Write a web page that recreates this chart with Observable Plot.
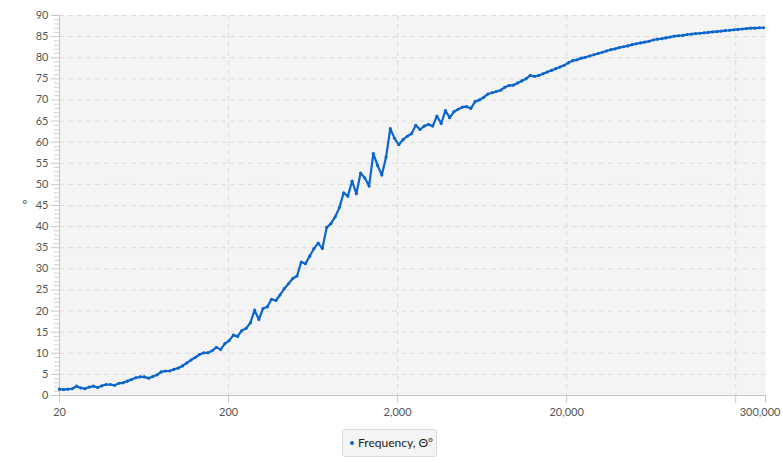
<!DOCTYPE html>
<html>
<head>
<meta charset="utf-8">
<script src="https://cdn.jsdelivr.net/npm/d3@7"></script>
<script src="https://cdn.jsdelivr.net/npm/@observablehq/plot@0.6"></script>
<style>
  html, body { margin: 0; padding: 0; background: #fff; }
  #wrap { position: relative; width: 783px; height: 463px; font-family: Lato, "Open Sans", sans-serif; }
  #legend {
    position: absolute; left: 342px; top: 429px; width: 93px; height: 26px;
    border: 1px solid #dcdcdc; border-radius: 3px; background: #f4f4f4;
    font-size: 12px; color: #222; line-height: 26px; box-sizing: content-box;
    white-space: nowrap;
  }
  #legend .dot { display: inline-block; width: 4px; height: 4px; border-radius: 50%; background: #0a66cc; margin: 0 4px 2px 7px; vertical-align: middle; }
</style>
</head>
<body>
<div id="wrap"><div id="chart"></div><div id="legend"><span class="dot"></span>Frequency, Θ°</div></div>
<script>
const freq = [20,21.19,22.45,23.78,25.2,26.7,28.28,29.97,31.75,33.64,35.64,37.76,
40,42.38,44.9,47.57,50.4,53.39,56.57,59.93,63.5,67.27,71.27,75.51,
80,84.76,89.8,95.14,100.8,106.8,113.1,119.9,127,134.5,142.5,151,
160,169.5,179.6,190.3,201.6,213.6,226.3,239.7,254,269.1,285.1,302,
320,339,359,381,403,427,453,479,508,538,570,604,
640,678,718,761,806,854,905,959,1016,1076,1140,1208,
1280,1356,1437,1522,1613,1709,1810,1918,2032,2153,2281,2416,
2560,2712,2874,3044,3225,3417,3620,3836,4064,4305,4561,4833,
5120,5424,5747,6089,6451,6834,7241,7671,8127,8611,9123,9665,
10240,10849,11494,12177,12902,13669,14482,15343,16255,17222,18246,19331,
20480,21698,22988,24355,25803,27338,28963,30685,32510,34443,36491,38661,
40960,43396,45976,48710,51606,54675,57926,61370,65020,68886,72982,77322,
81920,86791,91952,97420,103213,109350,115852,122741,130040,137773,145965,154645,
163840,173583,183905,194841,206427,218700,231705,245483,260080,275545,291930];

const theta = [1.5,1.4,1.5,1.6,2.2,1.8,1.6,2.0,2.2,1.9,
2.3,2.6,2.6,2.4,2.9,3.0,3.4,3.8,4.2,4.4,
4.4,4.1,4.5,4.9,5.6,5.8,5.8,6.2,6.5,7.0,
7.7,8.4,9.0,9.7,10.1,10.1,10.6,11.4,10.9,12.3,
13.0,14.3,14.0,15.4,15.9,17.2,20.2,18.0,20.6,21.0,
22.8,22.5,23.8,25.3,26.5,27.7,28.3,31.6,31.2,33.0,
34.8,36.1,34.8,39.8,40.7,42.3,44.5,48.0,47.2,50.8,
47.8,52.7,51.5,49.6,57.3,54.5,52.2,56.5,63.2,60.9,
59.4,60.6,61.4,62.0,64.0,63.0,63.8,64.2,63.8,66.2,
64.4,67.5,65.8,67.2,67.8,68.3,68.4,68.0,69.6,70.0,
70.6,71.4,71.7,72.0,72.3,73.0,73.4,73.5,74.0,74.5,
75.0,75.8,75.6,75.8,76.2,76.6,77.0,77.4,77.8,78.2,
78.8,79.3,79.5,79.9,80.1,80.4,80.7,81.0,81.3,81.6,
81.9,82.1,82.4,82.6,82.8,83.1,83.3,83.5,83.7,83.9,
84.2,84.4,84.5,84.7,84.9,85.1,85.2,85.3,85.5,85.6,
85.7,85.8,85.9,86.0,86.1,86.2,86.3,86.4,86.5,86.6,
86.7,86.8,86.9,87.0,87.0,87.1,87.1];

const xTickLabels = [20, 200, 2000, 20000];
const xEndTick = [300000];
const xGrid = [200, 2000, 20000, 200000];
const yTicks = [0,5,10,15,20,25,30,35,40,45,50,55,60,65,70,75,80,85,90];
const yMinor = d3.range(0, 91).filter(d => d % 5 !== 0);
const yLabel = "°";
const seriesName = "Frequency, Θ°";

const data = freq.map((f, i) => ({f, v: theta[i]}));
const blue = "#0a66cc";
const fmt = d3.format(",");

const chart = Plot.plot({
  width: 783,
  height: 425,
  marginLeft: 59,
  marginRight: 18,
  marginTop: 15,
  marginBottom: 30,
  style: {fontFamily: "Lato, 'Open Sans', sans-serif", fontSize: "11px", background: "transparent", overflow: "visible"},
  x: {type: "log", domain: [20, 300000]},
  y: {domain: [0, 90]},
  marks: [
    Plot.frame({fill: "#f4f4f4", stroke: "none"}),
    Plot.ruleY(yTicks.filter(d => d > 0), {stroke: "#dcdcdc", strokeWidth: 1, strokeDasharray: "5,4"}),
    Plot.ruleX(xGrid, {stroke: "#dcdcdc", strokeWidth: 1, strokeDasharray: "5,4"}),
    Plot.axisY({ticks: yMinor, tickSize: 5, tickFormat: () => "", stroke: "#d0d0d0", label: null}),
    Plot.axisY({ticks: yTicks, tickSize: 8, tickPadding: 3, tickFormat: d => String(d), stroke: "#c8c8c8", fill: "#555", label: null}),
    Plot.axisX({ticks: xTickLabels, tickSize: 8, tickPadding: 5, tickFormat: fmt, stroke: "#c8c8c8", fill: "#555", label: null}),
    Plot.axisX({ticks: [200000], tickSize: 8, tickFormat: () => "", stroke: "#c8c8c8", label: null}),
    Plot.ruleX(xEndTick, {x: d => d * 0.9999, y1: 0, y2: -8 / 4.222, stroke: "#c8c8c8"}),
    Plot.text(xEndTick, {x: d => d * 0.9999, text: d => fmt(d), frameAnchor: "bottom", lineAnchor: "top", textAnchor: "end", dy: 13, dx: 15, fill: "#555"}),
    Plot.ruleY([0], {stroke: "#c4c4c4"}),
    Plot.ruleX([20], {stroke: "#c4c4c4"}),
    Plot.line(data, {x: "f", y: "v", stroke: blue, strokeWidth: 2.2}),
    Plot.dot(data, {x: "f", y: "v", r: 1.6, fill: blue}),
    Plot.text([yLabel], {frameAnchor: "left", dx: -37, fill: "#333", fontSize: 11})
  ]
});
document.getElementById("chart").appendChild(chart);
</script>
</body>
</html>
